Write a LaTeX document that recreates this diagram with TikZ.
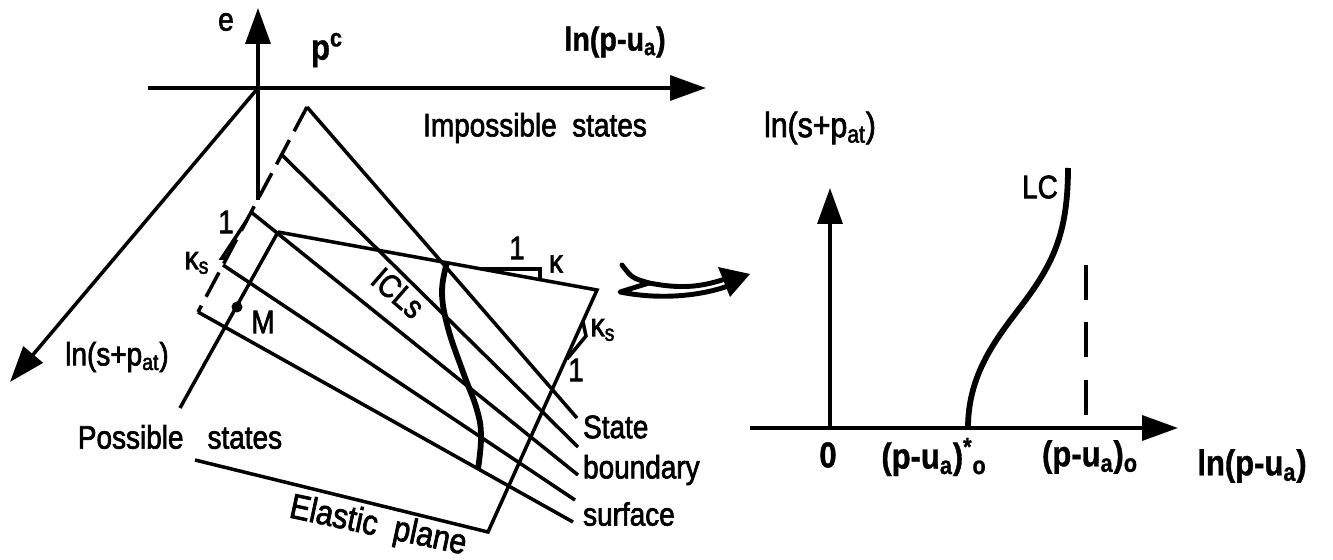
\documentclass[tikz,border=0pt]{standalone}
\usepackage{fontspec}
\setmainfont{Liberation Sans}[FakeStretch=0.86, FakeBold=2, BoldFeatures={FakeBold=1}]
\usetikzlibrary{arrows.meta}

\begin{document}
\begin{tikzpicture}[x=0.02cm, y=-0.02cm, >={Triangle[length=0.72cm,width=0.5cm]},
    ax/.style={line width=2pt, ->},
    ln/.style={line width=2pt},
    lc/.style={line width=3.3pt},
    dsh/.style={line width=2pt, dash pattern=on 0.55cm off 0.2cm},
    lbl/.style={inner sep=1pt, font=\fontsize{18.5}{22}\selectfont},
    bl/.style={inner sep=1pt, font=\fontsize{20.5}{24}\selectfont\bfseries}]

    \useasboundingbox (0,0) rectangle (1333,560);

    % 3D view
    \coordinate (o) at (258,88);
    \coordinate (etip) at (258,8);
    \coordinate (ebot) at (258,200);
    \coordinate (hs) at (148,88);
    \coordinate (htip) at (706,88);
    \coordinate (dtip) at (10,382);

    \draw[ax] (ebot) -- (etip);
    \draw[ax] (hs) -- (htip);
    \draw[ax] (o) -- (dtip);

    \coordinate (A) at (307,107);
    \coordinate (B) at (282,155);
    \coordinate (C) at (251,212);
    \coordinate (D) at (223,265);
    \coordinate (E) at (198,312);
    \coordinate (Aend) at (577,418);
    \coordinate (Bend) at (578,447);
    \coordinate (Cend) at (578,475);
    \coordinate (Dend) at (575,500);
    \coordinate (Eend) at (573,522);

    \draw[dsh] (A) -- (E);
    \foreach \s in {A,B,C,D,E}
      \draw[ln] (\s) -- (\s end);

    \coordinate (P) at (278,232);
    \coordinate (Q) at (597,290);
    \coordinate (R) at (488,532);
    \coordinate (Pbot) at (180,408);
    \coordinate (Rstart) at (195,460);
    \coordinate (M) at (237,307);

    \draw[ln] (P) -- (Q) -- (R) -- (Rstart);
    \draw[ln] (P) -- (Pbot);
    \fill (M) circle (5.5);

    \draw[lc] plot[smooth, tension=0.7] coordinates {(447,263) (442,292) (448,328) (463,372) (477,410) (481,437) (478,469)};

    % slope triangles
    \draw[ln] (247,220) -- (222,258) -- (227,258);
    \draw[ln] (482,269) -- (540,269) -- (540,280);
    \draw[ln] (583,322) -- (586,336) -- (567,359);

    \node[lbl] (e) at (226,22) {e};
    \node[bl] (pc) at (327,50) {p\textsuperscript{c}};
    \node[bl, font=\fontsize{19}{22}\selectfont\bfseries] (lnp) at (615,42) {ln(p-u\textsubscript{a})};
    \node[lbl] (imp) at (535,128) {Impossible\ \ states};
    \node[lbl] (lns) at (117,357) {ln(s+p\textsubscript{at})};
    \node[lbl] (pos) at (180,437) {Possible\enspace\ states};
    \node[lbl] (mlab) at (263,322) {M};
    \node[lbl, rotate=-41, inner sep=0pt] (icl) at (398,293) {ICLs};
    \node[lbl, anchor=west] (st) at (581,427) {State};
    \node[lbl, anchor=west] (bd) at (581,470) {boundary};
    \node[lbl, anchor=west] (sf) at (581,514) {surface};
    \node[lbl, rotate=-12, font=\fontsize{20}{24}\selectfont] (el) at (378,527) {Elastic\ \ plane};
    \node[lbl] (one1) at (226,222) {1};
    \node[lbl] (ks1) at (197,263) {κ\textsubscript{s}};
    \node[lbl] (one2) at (517,248) {1};
    \node[lbl] (k2) at (556,264) {κ};
    \node[lbl] (ks3) at (603,330) {κ\textsubscript{s}};
    \node[lbl] (one3) at (576,370) {1};

    % hollow arrow
    \draw[line width=2.8pt, line join=round, line cap=round] (622,265) .. controls (632,278) .. (649,283) -- (620,292) .. controls (660,300) and (700,296) .. (728,286);
    \draw[line width=2.8pt, line cap=round] (649,283) .. controls (680,289) and (700,287) .. (722,280);
    \fill (718,267) -- (750,274) -- (730,297) -- cycle;

    % LC plane
    \coordinate (o2) at (830,428);
    \coordinate (vtip) at (830,188);
    \coordinate (hs2) at (750,428);
    \coordinate (htip2) at (1178,428);
    \draw[ax] (o2) -- (vtip);
    \draw[ax] (hs2) -- (htip2);

    \draw[lc] (968,428) .. controls (968,375) and (995,340) .. (1022,305) .. controls (1052,265) and (1068,235) .. (1068,168);
    \draw[line width=2pt, dash pattern=on 0.7cm off 0.45cm] (1086,265) -- (1086,415);

    \node[bl] (zero) at (828,455) {0};
    \node[bl] (pstar) at (934,457) {(p-u\textsubscript{a})\textsuperscript{*}\textsubscript{o}};
    \node[bl] (pzero) at (1090,457) {(p-u\textsubscript{a})\textsubscript{o}};
    \node[bl] (lnp2) at (1252,466) {ln(p-u\textsubscript{a})};
    \node[lbl, font=\fontsize{20}{24}\selectfont] (lns2) at (820,128) {ln(s+p\textsubscript{at})};
    \node[lbl] (lclab) at (1040,187) {LC};
\end{tikzpicture}
\end{document}
